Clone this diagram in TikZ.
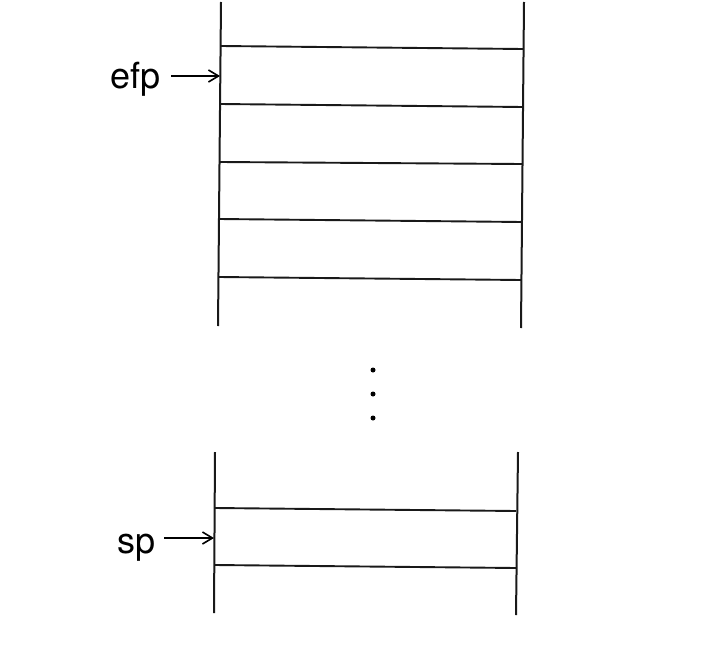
\documentclass[tikz,border=0pt]{standalone}
\usepackage{fontspec}
\setmainfont{TeX Gyre Heros}
\usetikzlibrary{arrows.meta}
\begin{document}
\begin{tikzpicture}[x=1pt,y=-1pt,
  wall/.style={line width=2pt,draw=black!90},
  rung/.style={line width=1.9pt,draw=black!90},
  ptr/.style={line width=1.6pt,-{Straight Barb[length=10pt,width=12pt,line width=1.6pt]}},
  lbl/.style={font=\fontsize{36}{36}\selectfont,inner sep=0pt,anchor=base east}]
\useasboundingbox (0,0) rectangle (728,645);
% top block
\coordinate (tl0) at (221,2);   \coordinate (tl1) at (218,326);
\coordinate (tr0) at (524,2);   \coordinate (tr1) at (521,328);
\draw[wall] (tl0) -- (tl1);
\draw[wall] (tr0) -- (tr1);
\foreach \i/\yl/\yr/\xl/\xr in {1/46/49/221/523, 2/104/107/220/523, 3/162/164/220/522, 4/219/222/219/522, 5/277/280/219/521}{
  \draw[rung] (\xl,\yl) -- (\xr,\yr);
}
% dots
\fill (373,370) circle (2.5pt);
\fill (373,394) circle (2.5pt);
\fill (373,418) circle (2.5pt);
% bottom block
\coordinate (bl0) at (215,452); \coordinate (bl1) at (214,613);
\coordinate (br0) at (518,452); \coordinate (br1) at (516,615);
\draw[wall] (bl0) -- (bl1);
\draw[wall] (br0) -- (br1);
\draw[rung] (215,508) -- (516,511);
\draw[rung] (215,565) -- (516,568);
% pointers
\node[lbl] (efp) at (161,88) {efp};
\coordinate (efpt) at (220,76);
\draw[ptr] (171,76) -- (efpt);
\node[lbl] (sp) at (156,553) {sp};
\coordinate (spt) at (214,538);
\draw[ptr] (164,538) -- (spt);
\end{tikzpicture}
\end{document}
